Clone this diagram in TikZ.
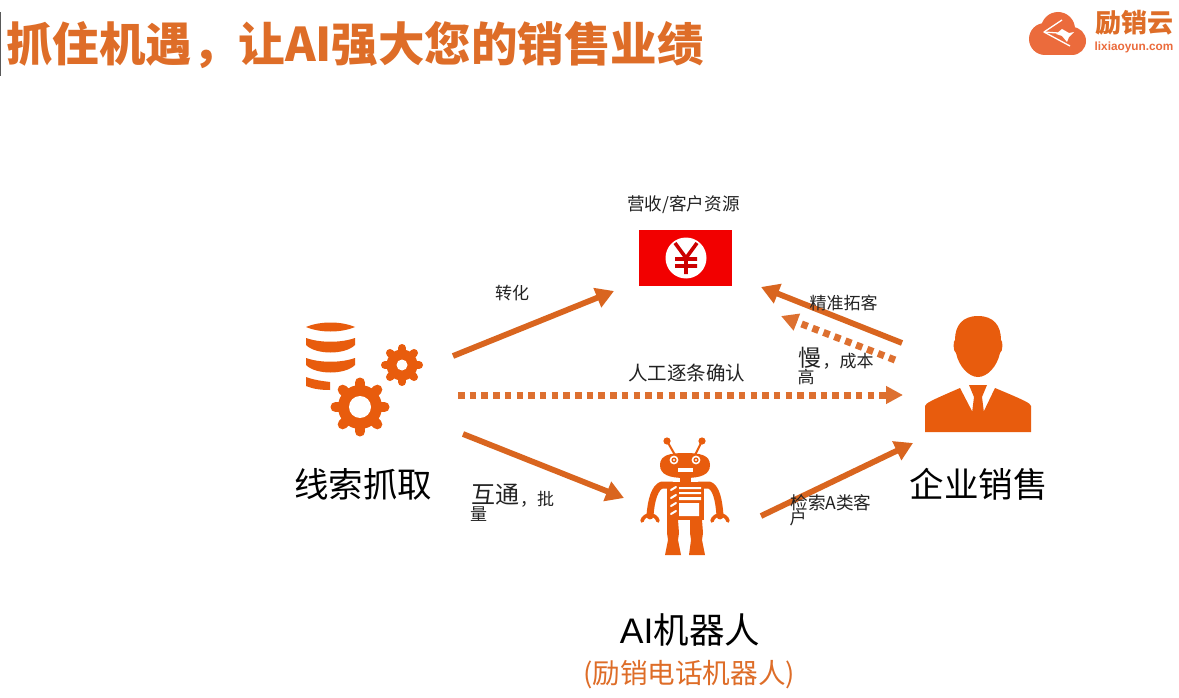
\documentclass[tikz,border=0pt]{standalone}
\usepackage{fontspec}
\setmainfont{Liberation Sans}
\newfontfamily\cjk{Noto Sans CJK SC}
\usetikzlibrary{arrows.meta}
\definecolor{iconor}{HTML}{E85C0D}
\definecolor{arrowor}{HTML}{D9651F}
\definecolor{dotor}{HTML}{DD7030}
\definecolor{titleor}{HTML}{DE6D28}
\definecolor{logoor}{HTML}{EB6B3C}
\definecolor{txt}{HTML}{222222}
\newcommand{\fs}[1]{\fontsize{#1}{#1}\selectfont}
\newcommand{\geariconx}[6]{% x y body tooth-outer toothwidth hole
  \foreach \a in {0,45,...,315}{\draw[iconor,line width=#5pt,line cap=round] (#1,#2) -- ++({#4*cos(\a)},{#4*sin(\a)});}
  \fill[iconor] (#1,#2) circle[radius=#3];
  \fill[white] (#1,#2) circle[radius=#6];}
\tikzset{
  x=1pt,y=-1pt,
  lbl/.style={font=\cjk\fs{17},text=txt,inner sep=0pt,anchor=center},
  bigcaption/.style={font=\cjk\fs{34.5},text=black,inner sep=0pt,anchor=center},
  solidarrow/.style={arrowor,line width=5.8pt,-{Triangle[length=18pt,width=20pt]}},
  dotarrow/.style={dotor,line width=7pt,dash pattern=on 6.5pt off 5.2pt,-{Triangle[length=17pt,width=17pt]}},
}
\begin{document}
\begin{tikzpicture}
\useasboundingbox (0,0) rectangle (1179,698);
\fill[white] (0,0) rectangle (1179,698);
\fill[gray!70!black] (0,12) rectangle (1.2,76);

% title
\node[font=\cjk\bfseries\fs{46.5},text=titleor,inner sep=0pt] (title) at (355,45) {抓住机遇，让AI强大您的销售业绩};

% logo
\fill[logoor] (1045,39) circle[radius=16] (1058,29) circle[radius=17] (1072,41) circle[radius=14];
\fill[logoor] (1045,42) rectangle (1072,55);
\draw[white,line width=1.3pt,line join=round] (1062,20) -- (1044,32) -- (1070,46);
\draw[white,line width=1.3pt] (1044,32) -- (1058,33);
\fill[white] (1062,29) -- (1069,33) -- (1074,32) -- (1069,37) -- (1067,42) -- (1062,36) -- (1056,34) -- cycle;
\node[font=\cjk\bfseries\fs{26},text=titleor,inner sep=0pt] (logoname) at (1134,23) {励销云};
\node[font=\bfseries\fs{11.8},text=logoor,inner sep=0pt] (logourl) at (1134,47) {lixiaoyun.com};

% revenue card
\node[lbl,font=\cjk\fs{17.6}] (revlabel) at (683.5,205) {营收/客户资源};
\fill[red!95!black] (639,230) rectangle (732,286);
\fill[white] (686,258) circle[radius=20.5];
\draw[red!80!black,line width=3.6pt] (675,243) -- (686,258) -- (697,243) (686,258) -- (686,274) (675,259) -- (697,259) (675,266) -- (697,266);

% database
\fill[iconor] (306,327) .. controls (320,321) and (341,321) .. (355,327) .. controls (341,333) and (320,333) .. (306,327) -- cycle;
\foreach \y in {338,358}{
  \fill[iconor] (306,\y) .. controls (320,\y+5) and (341,\y+5) .. (355,\y) -- (355,\y+7) .. controls (345,\y+17) and (316,\y+17) .. (306,\y+7) -- cycle;}
\fill[iconor] (306,377) .. controls (314,380) and (322,381) .. (330,382) -- (330,390) .. controls (321,390) and (313,389) .. (306,386) -- cycle;

% gears
\geariconx{360}{407}{22}{24.5}{10}{11}
\geariconx{402}{365}{15.5}{17}{8}{5.5}

% person
\fill[iconor] (978,316) .. controls (994,316) and (1001,326) .. (1001,340) .. controls (1003,340) and (1003,352) .. (1000,353) .. controls (997,367) and (987,377) .. (978,377) .. controls (969,377) and (959,367) .. (956,353) .. controls (953,352) and (953,340) .. (955,340) .. controls (955,326) and (962,316) .. (978,316) -- cycle;
\fill[iconor] (925,432) -- (925,406) .. controls (926,403) and (930,401) .. (960,388) -- (973,413) -- (983,413) -- (995,388) .. controls (1026,401) and (1030,403) .. (1031,406) -- (1031,432) -- cycle;
\fill[iconor] (969,385) -- (987,385) -- (982,397) -- (984,413) -- (972,413) -- (974,397) -- cycle;

% robot
\draw[iconor,line width=2pt] (675,455) -- (667,441) (695,455) -- (702,441);
\fill[iconor] (667,441) circle[radius=3.6] (702,441) circle[radius=3.6];
\fill[iconor] (660,465) .. controls (660,455) and (670,453) .. (685,453) .. controls (700,453) and (710,455) .. (710,465) .. controls (710,475) and (700,478) .. (685,478) .. controls (670,478) and (660,475) .. (660,465) -- cycle;
\fill[iconor] (680,476) rectangle (691,484);
\foreach \x in {674,696}{\fill[white] (\x,460) circle[radius=4.4]; \fill[iconor] (\x,460) circle[radius=2.6];\fill[white] (\x,460) circle[radius=1.1];}
\fill[white] (678,468) rectangle (693,472);
\draw[iconor,line width=7pt,line cap=round,line join=round] (672,485) -- (662,485) .. controls (655,487) and (651,500) .. (650,516);
\draw[iconor,line width=7pt,line cap=round,line join=round] (699,485) -- (709,485) .. controls (716,487) and (719,500) .. (720,516);
\draw[iconor,line width=3.6pt,line cap=round] (642,521) .. controls (644,513) and (656,513) .. (658,521);
\draw[iconor,line width=3.6pt,line cap=round] (712,521) .. controls (714,513) and (726,513) .. (728,521);
\fill[iconor] (667,482) rectangle (704,520);
\fill[iconor] (667,520) -- (678,520) -- (679,533) -- (678,540) -- (681,555) -- (665,555) -- (668,540) -- (667,533) -- cycle;
\fill[iconor] (690,520) -- (702,520) -- (703,533) -- (702,540) -- (705,555) -- (689,555) -- (691,540) -- (690,533) -- cycle;
\fill[white] (679,487) rectangle (701,489.2) (679,492) rectangle (701,494.2) (679,497) rectangle (701,500) (679,503) rectangle (699,516);
\foreach \y in {489,497,505,513}{\draw[white,line width=2pt,line cap=round] (671,\y+1) -- (676,\y-2);}

% captions
\node[bigcaption] (leadcap) at (363,484) {线索抓取};
\node[bigcaption] (salescap) at (978.5,484) {企业销售};
\node[font=\fs{35.5},text=black,inner sep=0pt] (aicap) at (690,630) {AI\cjk 机器人};
\node[font=\cjk\fs{27.6},text=titleor,inner sep=0pt] (aisub) at (689,675) {(励销电话机器人)};

% connectors
\coordinate (convfrom) at (453,356);
\coordinate (convto) at (614,291);
\coordinate (precfrom) at (902,343);
\coordinate (precto) at (761,287);
\coordinate (slowfrom) at (895,360);
\coordinate (slowto) at (781,316);
\coordinate (manfrom) at (458,395);
\coordinate (manto) at (903,395);
\coordinate (robinfrom) at (463,434);
\coordinate (robinto) at (624,498);
\coordinate (roboutfrom) at (761,516);
\coordinate (roboutto) at (913,443);
\draw[solidarrow] (convfrom) -- (convto);
\draw[solidarrow] (precfrom) -- (precto);
\draw[dotarrow] (slowfrom) -- (slowto);
\draw[dotarrow] (manfrom) -- (manto);
\draw[solidarrow] (robinfrom) -- (robinto);
\draw[solidarrow] (roboutfrom) -- (roboutto);

% connector labels
\node[lbl] (convlbl) at (512,293) {转化};
\node[lbl] (preclbl) at (843.5,303) {精准拓客};
\node[lbl,font=\cjk\fs{19.5}] (manlbl) at (686.5,373) {人工逐条确认};
\node[lbl,font=\cjk\fs{23}] (slowa) at (809.5,358) {慢};
\node[lbl] (slowb) at (848,361) {，成本};
\node[lbl] (slowc) at (806,377) {高};
\node[lbl,font=\cjk\fs{24}] (inta) at (495.5,495) {互通};
\node[lbl] (intb) at (537,499) {，批};
\node[lbl] (intc) at (478.5,514) {量};
\node[lbl,font=\cjk\fs{17.6}] (lead) at (831,503) {检索A类客};
\node[lbl] (leadb) at (798,518) {户};
\end{tikzpicture}
\end{document}
